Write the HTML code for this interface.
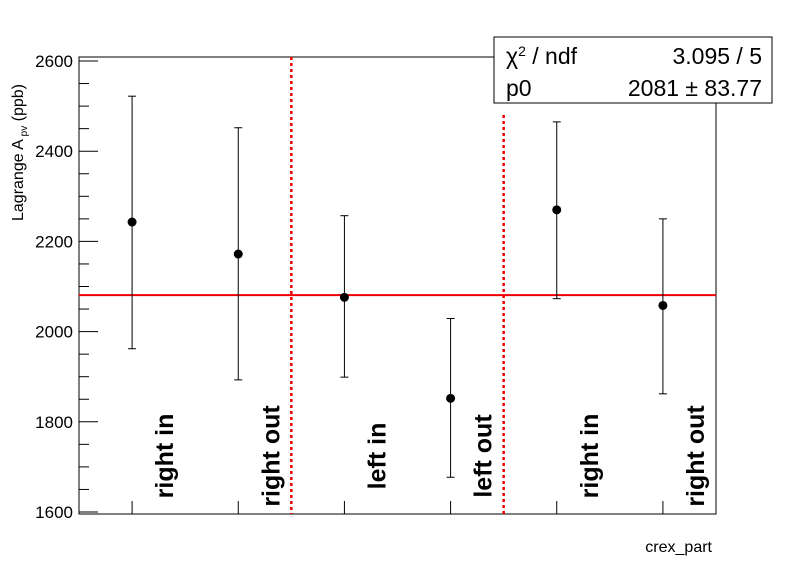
<!DOCTYPE html>
<html><head><meta charset="utf-8"><style>
body{margin:0;background:#fff;font-family:"Liberation Sans",sans-serif}
</style></head><body>
<svg width="796" height="572" viewBox="0 0 796 572" id="c">
<rect width="796" height="572" fill="#fff"/>
</svg>
<script>
const categories=["right in","right out","left in","left out","right in","right out"];
const values=[2243,2172,2076,1852,2270,2058];
const errLow=[1962,1893,1899,1677,2073,1862];
const errHigh=[2522,2452,2257,2029,2465,2250];
const yTicks=[1600,1800,2000,2200,2400,2600];
const fitValue=2081;
const dividers=[2,4];
const NS="http://www.w3.org/2000/svg";
const svg=document.getElementById('c');
const L=79,R=716,T=57,B=514;
const y=v=>512-(v-1600)*0.451;
const x=i=>L+(R-L)*(i+0.5)/6;
function mk(t,a,p){const e=document.createElementNS(NS,t);for(const k in a)e.setAttribute(k,a[k]);(p||svg).appendChild(e);return e;}
const frame=mk('rect',{x:L,y:T,width:R-L,height:B-T,fill:'none',stroke:'#000','stroke-width':1});


for(let v=1600;v<=2600;v+=50){const major=v%200===0;mk('line',{x1:L,x2:L+(major?19:10),y1:y(v),y2:y(v),stroke:'#000'});}
yTicks.forEach(v=>{const t=mk('text',{x:L-6,y:y(v)+6,'text-anchor':'end','font-size':17});t.textContent=v;

});
categories.forEach((c,i)=>{mk('line',{x1:x(i),x2:x(i),y1:B,y2:B-13,stroke:'#000'});
const t=mk('text',{transform:`translate(${x(i)+41},456) rotate(-90)`,'font-size':25,'font-weight':'bold','text-anchor':'middle'});t.textContent=c;

});
dividers.forEach((d,k)=>{const xx=L+(R-L)*d/6;const l=mk('line',{x1:xx,x2:xx,y1:k==0?T:115,y2:B,stroke:'#e00','stroke-width':2.5,'stroke-dasharray':'3,3'});

});
const fit=mk('line',{x1:L,x2:R,y1:y(fitValue),y2:y(fitValue),stroke:'#e00','stroke-width':2});


values.forEach((v,i)=>{const g=mk('g',{});


mk('line',{x1:x(i),x2:x(i),y1:y(errLow[i]),y2:y(errHigh[i]),stroke:'#000'},g);
mk('line',{x1:x(i)-4,x2:x(i)+4,y1:y(errLow[i]),y2:y(errLow[i]),stroke:'#000'},g);
mk('line',{x1:x(i)-4,x2:x(i)+4,y1:y(errHigh[i]),y2:y(errHigh[i]),stroke:'#000'},g);
mk('circle',{cx:x(i),cy:y(v),r:4.5,fill:'#000'},g);});
const yt=mk('text',{transform:'translate(23,84) rotate(-90)','font-size':16,'text-anchor':'end'});
yt.innerHTML='Lagrange A<tspan font-size="10" dy="4"> pv</tspan><tspan dy="-4">  (ppb)</tspan>';


const xt=mk('text',{x:712,y:552,'text-anchor':'end','font-size':16});xt.textContent='crex_part';


const sb=mk('g',{});


mk('rect',{x:494,y:37,width:278,height:66,fill:'#fff',stroke:'#000'},sb);
const s1=mk('text',{x:506,y:64,'font-size':23},sb);s1.innerHTML='χ<tspan font-size="14" dy="-8">2</tspan><tspan dy="8"> / ndf</tspan>';
const s2=mk('text',{x:762,y:64,'font-size':23,'text-anchor':'end'},sb);s2.textContent='3.095 / 5';
const s3=mk('text',{x:506,y:96,'font-size':23},sb);s3.textContent='p0';
const s4=mk('text',{x:762,y:96,'font-size':23,'text-anchor':'end'},sb);s4.textContent='2081 ± 83.77';
</script>
</body></html>
